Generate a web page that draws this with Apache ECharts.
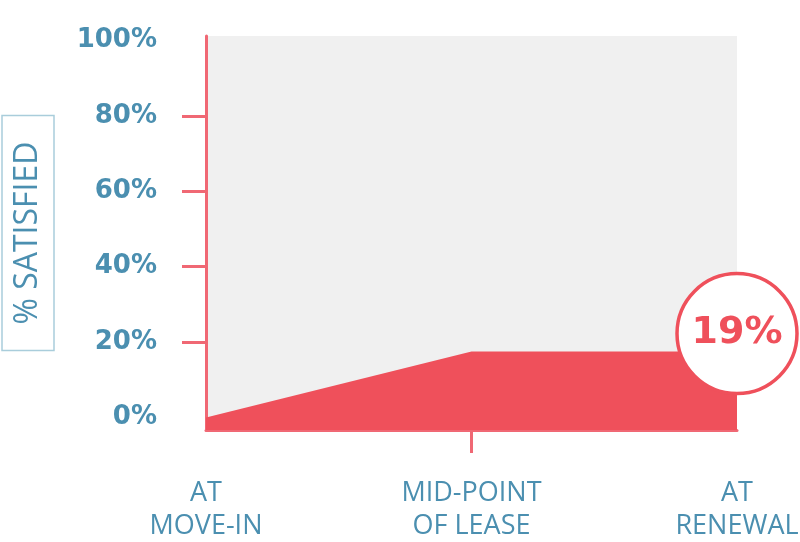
<!DOCTYPE html>
<html>
<head>
<meta charset="utf-8">
<script src="https://cdn.jsdelivr.net/npm/echarts@6/dist/echarts.min.js"></script>
<style>html,body{margin:0;padding:0;background:#fff}#c{width:800px;height:542px}</style>
</head>
<body>
<div id="c"></div>
<script>
const categories = ['AT\nMOVE-IN', 'MID-POINT\nOF LEASE', 'AT\nRENEWAL'];
const satisfied = [0, 17.5, 17.5];
const calloutLabel = '19%';
const yLabelValues = [0, 20, 40, 60, 80, 100];
const yTickValues = [20, 40, 60, 80];
const axisName = '% SATISFIED';

const RED = '#ef505b';
const AXIS_RED = '#f06874';
const BLUE = '#4b8fb0';

const chart = echarts.init(document.getElementById('c'));
chart.setOption({
  animation: false,
  grid: { left: 206, right: 63, top: 36, bottom: 112, show: true, backgroundColor: '#f0f0f0', borderWidth: 0, containLabel: false, outerBoundsMode: 'none' },
  xAxis: {
    type: 'category', boundaryGap: false, data: categories,
    axisLine: { onZero: false, lineStyle: { color: AXIS_RED, width: 3 } },
    axisTick: { show: true, length: 23, interval: (i) => i === 1, lineStyle: { color: AXIS_RED, width: 3 } },
    axisLabel: { interval: 0, margin: 47, fontSize: 27, lineHeight: 33, color: BLUE, fontFamily: 'Open Sans' },
    splitLine: { show: false }
  },
  yAxis: {
    type: 'value', min: -3.3, max: 101.2,
    name: axisName, nameLocation: 'middle', nameRotate: 90, nameGap: 152,
    nameTextStyle: { fontFamily: 'Open Sans', fontSize: 32, color: BLUE, borderColor: '#a9cddb', borderWidth: 1.5, padding: [11, 26], lineHeight: 30 },
    axisLine: { show: true, onZero: false, lineStyle: { color: AXIS_RED, width: 3 } },
    axisTick: { show: true, length: 24, customValues: yTickValues, lineStyle: { color: AXIS_RED, width: 3 } },
    axisLabel: { customValues: yLabelValues, formatter: '{value}%', margin: 49, fontSize: 26, fontWeight: 'bold', fontFamily: 'DejaVu Sans', color: BLUE },
    splitLine: { show: false }
  },
  series: [{
    type: 'line', data: satisfied, symbol: 'none', z: 1,
    lineStyle: { width: 0 },
    areaStyle: { color: RED, opacity: 1, origin: 'start' },
    markPoint: {
      symbol: 'circle', symbolSize: 120,
      itemStyle: { color: '#fff', borderColor: RED, borderWidth: 3.5 },
      label: { show: true, formatter: calloutLabel, color: RED, fontSize: 38, fontWeight: 'bold', fontFamily: 'DejaVu Sans' },
      data: [{ coord: [categories.length - 1, satisfied[satisfied.length - 1]], symbolOffset: [0, -18] }]
    }
  }]
});
</script>
</body>
</html>
